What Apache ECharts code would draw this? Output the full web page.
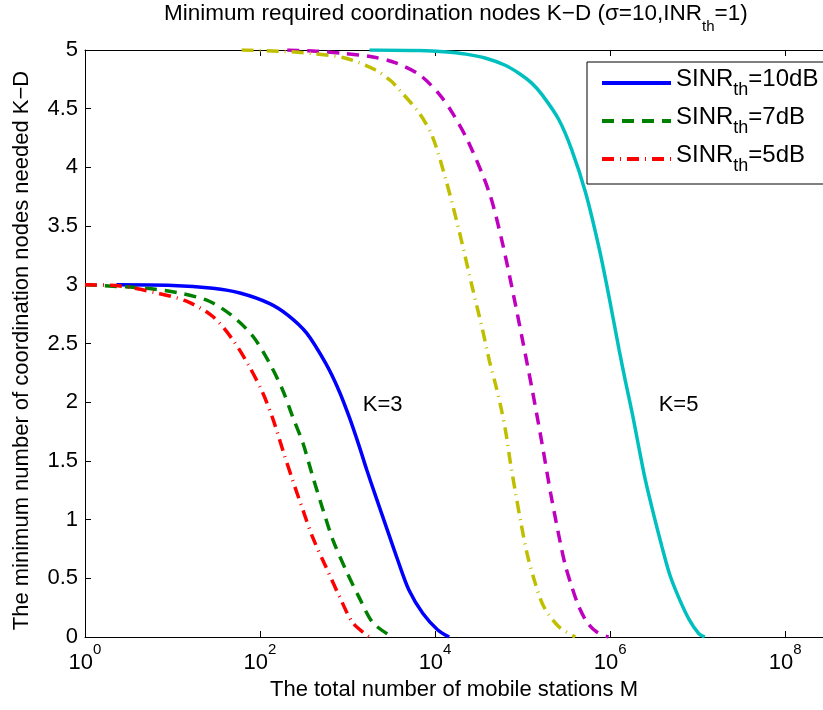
<!DOCTYPE html>
<html>
<head>
<meta charset="utf-8">
<script src="https://cdn.jsdelivr.net/npm/echarts@6/dist/echarts.min.js"></script>
<style>
html, body { margin: 0; padding: 0; background: #fff; }
#main { width: 823px; height: 710px; }
</style>
</head>
<body>
<div id="main"></div>
<script>
// x values are log10(M), y values are K-D
// K=3
var xK3_10dB = [0.36, 1.00, 1.46, 1.77, 2.11, 2.32, 2.53, 2.75, 2.90, 3.02, 3.13, 3.22, 3.32, 3.44, 3.57, 3.70, 3.86, 4.03, 4.16];
var yK3_10dB = [3.00, 2.995, 2.97, 2.93, 2.84, 2.74, 2.59, 2.33, 2.10, 1.87, 1.63, 1.42, 1.20, 0.94, 0.66, 0.40, 0.20, 0.06, 0];
var xK3_7dB = [0, 0.70, 1.08, 1.42, 1.69, 1.92, 2.11, 2.26, 2.37, 2.49, 2.60, 2.72, 2.83, 2.98, 3.13, 3.29, 3.51];
var yK3_7dB = [3.00, 2.97, 2.93, 2.86, 2.73, 2.56, 2.33, 2.10, 1.88, 1.65, 1.37, 1.08, 0.83, 0.57, 0.34, 0.12, 0];
var xK3_5dB = [0, 0.40, 0.82, 1.16, 1.46, 1.69, 1.88, 2.03, 2.15, 2.26, 2.37, 2.49, 2.60, 2.75, 2.91, 3.06, 3.25];
var yK3_5dB = [3.00, 2.99, 2.93, 2.86, 2.73, 2.53, 2.30, 2.08, 1.85, 1.59, 1.34, 1.08, 0.85, 0.60, 0.34, 0.12, 0];
// K=5
var xK5_10dB = [3.25, 3.82, 4.10, 4.35, 4.58, 4.80, 4.96, 5.10, 5.22, 5.41, 5.56, 5.72, 5.87, 5.98, 6.10, 6.17, 6.25, 6.32, 6.40, 6.50, 6.59, 6.68, 6.78, 6.90, 7.01, 7.08];
var yK5_10dB = [5.00, 4.995, 4.985, 4.965, 4.93, 4.87, 4.80, 4.72, 4.62, 4.41, 4.15, 3.78, 3.32, 2.92, 2.45, 2.19, 1.91, 1.64, 1.34, 1.03, 0.77, 0.53, 0.34, 0.15, 0.03, 0];
var xK5_7dB = [2.31, 2.64, 2.96, 3.29, 3.55, 3.82, 4.05, 4.20, 4.39, 4.62, 4.77, 4.92, 5.00, 5.11, 5.22, 5.32, 5.43, 5.49, 5.56, 5.64, 5.74, 5.85, 5.98];
var yK5_7dB = [5.00, 4.99, 4.97, 4.94, 4.89, 4.79, 4.62, 4.46, 4.20, 3.78, 3.35, 2.82, 2.52, 2.10, 1.65, 1.22, 0.80, 0.60, 0.43, 0.26, 0.12, 0.04, 0];
var xK5_5dB = [1.79, 2.22, 2.60, 2.98, 3.32, 3.49, 3.58, 3.82, 3.97, 4.12, 4.27, 4.43, 4.54, 4.62, 4.69, 4.75, 4.81, 4.86, 4.92, 4.98, 5.05, 5.13, 5.24, 5.41, 5.60];
var yK5_5dB = [5.00, 4.99, 4.97, 4.93, 4.83, 4.74, 4.67, 4.46, 4.26, 3.90, 3.47, 2.96, 2.62, 2.35, 2.15, 1.96, 1.73, 1.48, 1.22, 0.97, 0.71, 0.49, 0.26, 0.09, 0];

var legendNames = ['10dB', '7dB', '5dB'];
var yTicks = [0, 5, 0.5];           // min, max, step
var xMaxExp = 8.43;                 // axis runs 10^0 .. 10^8.43 (cut at the right edge)
var notes = ['K=3', 'K=5'];
var notesX = [3.40, 6.78];
var notesY = [1.98, 1.98];

var FONT = 'Liberation Sans';

function pts(xs, ys) {
    var out = [];
    for (var i = 0; i < xs.length; i++) {
        out.push([Math.pow(10, xs[i]), ys[i]]);
    }
    return out;
}

function subRich(size, subSize, lh) {
    return {
        b: { fontSize: size, lineHeight: size, verticalAlign: 'top', fontFamily: FONT, color: '#000' },
        s: { fontSize: subSize, lineHeight: subSize, verticalAlign: 'bottom', fontFamily: FONT, color: '#000' },
        p: { fontSize: 1, lineHeight: lh }
    };
}

function mkLine(name, data, color, dash) {
    return {
        name: name,
        type: 'line',
        data: data,
        symbol: 'none',
        showSymbol: false,
        smooth: 0.3,
        color: color,
        lineStyle: { color: color, width: 3.5, type: dash },
        emphasis: { disabled: true }
    };
}

var series = [
    mkLine(legendNames[0], pts(xK3_10dB, yK3_10dB), '#0000FF', 'solid'),
    mkLine(legendNames[1], pts(xK3_7dB, yK3_7dB), '#008000', [12, 8]),
    mkLine(legendNames[2], pts(xK3_5dB, yK3_5dB), '#FF0000', [12, 6, 1, 6]),
    mkLine('K5 10dB', pts(xK5_10dB, yK5_10dB), '#00BFBF', 'solid'),
    mkLine('K5 7dB', pts(xK5_7dB, yK5_7dB), '#BF00BF', [12, 8]),
    mkLine('K5 5dB', pts(xK5_5dB, yK5_5dB), '#BFBF00', [12, 6, 1, 6])
];

// K=3 / K=5 notes
var noteData = [];
for (var i = 0; i < notes.length; i++) {
    noteData.push({ coord: [Math.pow(10, notesX[i]), notesY[i]], value: notes[i] });
}
series[0].markPoint = {
    symbol: 'circle',
    symbolSize: 1,
    itemStyle: { color: 'transparent' },
    label: {
        show: true, position: 'inside', color: '#000', fontSize: 22, fontFamily: FONT,
        formatter: function (p) { return p.value; }
    },
    data: noteData
};

var xAxisBase = {
    type: 'log',
    logBase: 100,
    min: 1,
    max: Math.pow(10, xMaxExp),
    gridIndex: 0,
    axisLine: { show: true, lineStyle: { color: '#000', width: 1 } },
    axisTick: { show: true, inside: true, length: 6, lineStyle: { color: '#000' } },
    splitLine: { show: false },
    minorTick: { show: false }
};

var myChart = echarts.init(document.getElementById('main'), null, { renderer: 'canvas' });

option = {
    animation: false,
    backgroundColor: '#fff',
    title: {
        text: '{b|Minimum required coordination nodes K\u2212D (\u03c3=10,INR}{s|th}{b|=1)}{p| }',
        left: 456,
        top: 2,
        padding: 0,
        textAlign: 'center',
        textStyle: { fontSize: 22.5, fontWeight: 'normal', fontFamily: FONT, color: '#000', rich: subRich(22.5, 15, 32) }
    },
    legend: {
        data: legendNames,
        orient: 'vertical',
        left: 587,
        top: 62,
        padding: [5, 14, 9, 13],
        itemGap: 6,
        itemWidth: 69,
        itemHeight: 14,
        backgroundColor: '#fff',
        borderColor: '#000',
        borderWidth: 1,
        borderRadius: 0,
        selectedMode: false,
        itemStyle: { color: 'transparent', borderColor: 'transparent', borderWidth: 0 },
        lineStyle: { width: 4 },
        textStyle: { fontSize: 24, fontFamily: FONT, color: '#000', rich: subRich(24, 18, 32) },
        formatter: function (name) {
            return '{b|SINR}{s|th}{b|=' + name + '}{p| }';
        }
    },
    grid: {
        left: 85,
        top: 50,
        width: 740,
        height: 587,
        containLabel: false
    },
    xAxis: [
        Object.assign({}, xAxisBase, {
            position: 'bottom',
            name: 'The total number of mobile stations M',
            nameLocation: 'middle',
            nameGap: 42,
            nameTextStyle: { fontSize: 22, fontFamily: FONT, color: '#000' },
            axisLabel: {
                show: true,
                margin: 5,
                showMaxLabel: false,
                color: '#000',
                fontFamily: FONT,
                formatter: function (v) {
                    var e = Math.log(v) / Math.LN10;
                    var r = Math.round(e);
                    if (Math.abs(e - r) > 1e-6 || r % 2 !== 0) return '';
                    return '{b|10}{s|' + r + '}{p| }';
                },
                rich: {
                    b: { fontSize: 22, lineHeight: 22, verticalAlign: 'bottom', fontFamily: FONT, color: '#000' },
                    s: { fontSize: 15, lineHeight: 15, verticalAlign: 'top', fontFamily: FONT, color: '#000' },
                    p: { fontSize: 1, lineHeight: 32 }
                }
            }
        }),
        Object.assign({}, xAxisBase, {
            position: 'top',
            axisLabel: { show: false }
        })
    ],
    yAxis: {
        type: 'value',
        min: yTicks[0],
        max: yTicks[1],
        interval: yTicks[2],
        name: 'The minimum number of coordination nodes needed K\u2212D',
        nameLocation: 'middle',
        nameGap: 52,
        nameTextStyle: { fontSize: 22, fontFamily: FONT, color: '#000', padding: [0, 14, 0, 0] },
        axisLine: { show: true, lineStyle: { color: '#000', width: 1 } },
        axisTick: { show: true, inside: true, length: 6, lineStyle: { color: '#000' } },
        axisLabel: { fontSize: 22, fontFamily: FONT, color: '#000', margin: 7 },
        splitLine: { show: false }
    },
    series: series
};

myChart.setOption(option);
</script>
</body>
</html>
